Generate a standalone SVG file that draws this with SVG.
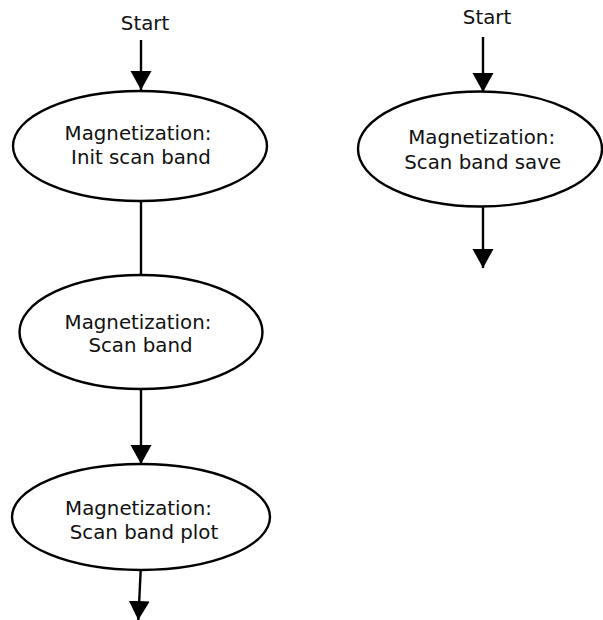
<svg xmlns="http://www.w3.org/2000/svg" width="603" height="620" viewBox="0 0 603 620">
<style>
.n{fill:#fff;stroke:#000;stroke-width:2.4}
.t{font-family:"DejaVu Sans",sans-serif;font-size:19.8px;fill:#111;text-anchor:middle}
.e{stroke:#000;stroke-width:2.4;fill:none}
</style>
<defs>
<marker id="ah" markerUnits="userSpaceOnUse" markerWidth="22" markerHeight="22" refX="19" refY="11" orient="auto">
<path d="M0,0.5 L19,11 L0,21.5 Z" fill="#000"/>
</marker>
</defs>
<rect width="603" height="620" fill="#fff"/>
<g id="connectors">
<line class="e" x1="141" y1="40" x2="141" y2="90" marker-end="url(#ah)"/>
<line class="e" x1="141" y1="201" x2="141" y2="275"/>
<line class="e" x1="141" y1="389" x2="141" y2="464" marker-end="url(#ah)"/>
<line class="e" x1="140.7" y1="570" x2="138.3" y2="620" marker-end="url(#ah)"/>
<line class="e" x1="483" y1="37" x2="483" y2="92" marker-end="url(#ah)"/>
<line class="e" x1="483" y1="207" x2="483" y2="268" marker-end="url(#ah)"/>
</g>
<g id="start1"><text class="t" x="145" y="30">Start</text></g>
<g id="start2"><text class="t" x="487" y="24">Start</text></g>
<g id="init">
<ellipse class="n" cx="140" cy="146" rx="127" ry="55"/>
<text class="t" x="138" y="140">Magnetization:</text>
<text class="t" x="141" y="164">Init scan band</text>
</g>
<g id="scan">
<ellipse class="n" cx="141" cy="332" rx="121.5" ry="57"/>
<text class="t" x="138" y="329">Magnetization:</text>
<text class="t" x="140.5" y="352">Scan band</text>
</g>
<g id="plot">
<ellipse class="n" cx="141" cy="517" rx="129" ry="53"/>
<text class="t" x="138.5" y="515">Magnetization:</text>
<text class="t" x="144" y="539">Scan band plot</text>
</g>
<g id="save">
<ellipse class="n" cx="480" cy="149" rx="122" ry="57.5"/>
<text class="t" x="481.7" y="144">Magnetization:</text>
<text class="t" x="482.7" y="169">Scan band save</text>
</g>
</svg>
